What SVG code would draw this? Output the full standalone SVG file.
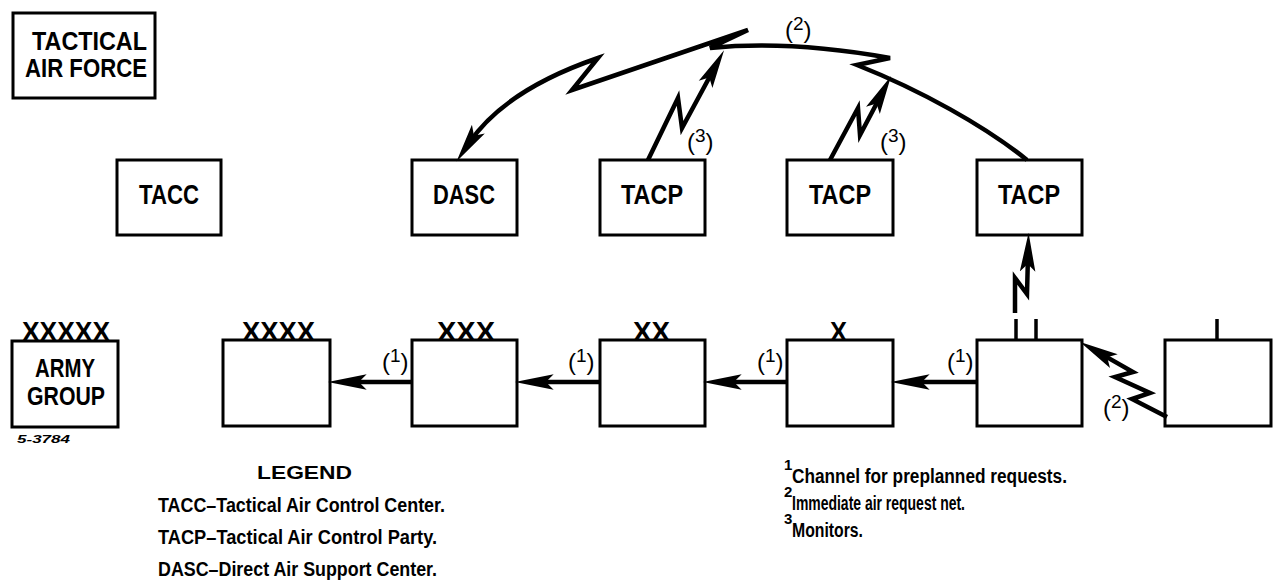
<svg xmlns="http://www.w3.org/2000/svg" width="1273" height="588" viewBox="0 0 1273 588">
<style>
.box{fill:#fff;stroke:#000;stroke-width:3}
.t{font-family:"Liberation Sans",Arial,sans-serif;font-size:27px;font-weight:bold;fill:#000}
.x{font-family:"Liberation Sans",Arial,sans-serif;font-size:28px;font-weight:bold;fill:#000}
.c{fill:none;stroke:#000;stroke-width:4.5;stroke-linejoin:miter}
.lb{font-family:"Liberation Sans",Arial,sans-serif;font-size:24px;fill:#000}
.lg{font-family:"Liberation Sans",Arial,sans-serif;font-size:20px;font-weight:bold;fill:#000}
.sup{font-family:"Liberation Sans",Arial,sans-serif;font-size:15px;font-weight:bold;fill:#000}
.tick{stroke:#000;stroke-width:3.5}
</style>
<defs>
<marker id="ah" markerUnits="userSpaceOnUse" markerWidth="40" markerHeight="20" viewBox="0 -8 36 16" refX="15" refY="0" orient="auto">
<path d="M0,-7 L35,0 L0,7 L7,0 Z" fill="#000"/>
</marker>
</defs>
<rect width="1273" height="588" fill="#fff"/>

<g id="taf"><rect class="box" x="13" y="13" width="142" height="85"/>
<text class="t" x="32" y="50" style="font-size:25px" textLength="115" lengthAdjust="spacingAndGlyphs">TACTICAL</text>
<text class="t" x="25" y="77" style="font-size:25px" textLength="122" lengthAdjust="spacingAndGlyphs">AIR FORCE</text></g>

<g id="tacc"><rect class="box" x="117" y="160" width="104" height="75"/>
<text class="t" x="139" y="204" textLength="60" lengthAdjust="spacingAndGlyphs">TACC</text></g>
<g id="dasc"><rect class="box" x="412" y="160" width="105" height="75"/>
<text class="t" x="433" y="204" textLength="62" lengthAdjust="spacingAndGlyphs">DASC</text></g>
<g id="tacp1"><rect class="box" x="600" y="160" width="105" height="75"/>
<text class="t" x="621" y="204" textLength="62" lengthAdjust="spacingAndGlyphs">TACP</text></g>
<g id="tacp2"><rect class="box" x="787" y="160" width="106" height="75"/>
<text class="t" x="809" y="204" textLength="62" lengthAdjust="spacingAndGlyphs">TACP</text></g>
<g id="tacp3"><rect class="box" x="977" y="160" width="105" height="75"/>
<text class="t" x="998" y="204" textLength="62" lengthAdjust="spacingAndGlyphs">TACP</text></g>

<g id="armygroup"><rect class="box" x="12" y="341" width="106" height="86"/>
<text class="x" x="22" y="341" textLength="88" lengthAdjust="spacingAndGlyphs">XXXXX</text>
<text class="t" x="35" y="377" style="font-size:26px" textLength="60" lengthAdjust="spacingAndGlyphs">ARMY</text>
<text class="t" x="27" y="405" style="font-size:26px" textLength="78" lengthAdjust="spacingAndGlyphs">GROUP</text></g>
<g id="army"><rect class="box" x="223" y="340" width="107" height="86"/>
<text class="x" x="242" y="341" textLength="73" lengthAdjust="spacingAndGlyphs">XXXX</text></g>
<g id="corps"><rect class="box" x="412" y="340" width="105" height="86"/>
<text class="x" x="437" y="341" textLength="58" lengthAdjust="spacingAndGlyphs">XXX</text></g>
<g id="division"><rect class="box" x="600" y="340" width="105" height="86"/>
<text class="x" x="633" y="341" textLength="37" lengthAdjust="spacingAndGlyphs">XX</text></g>
<g id="brigade"><rect class="box" x="787" y="340" width="106" height="86"/>
<text class="x" x="830" y="341" textLength="17" lengthAdjust="spacingAndGlyphs">X</text></g>
<g id="battalion"><rect class="box" x="977" y="340" width="105" height="86"/>
<line class="tick" x1="1016" y1="319" x2="1016" y2="340"/><line class="tick" x1="1036" y1="319" x2="1036" y2="340"/></g>
<g id="company"><rect class="box" x="1165" y="340" width="106" height="86"/>
<line class="tick" x1="1217" y1="319" x2="1217" y2="340"/></g>

<g id="connectors">
<path class="c" marker-end="url(#ah)" d="M412,382 L350,382"/>
<path class="c" marker-end="url(#ah)" d="M600,382 L537,382"/>
<path class="c" marker-end="url(#ah)" d="M787,382 L725,382"/>
<path class="c" marker-end="url(#ah)" d="M977,382 L913,382"/>
<path class="c" marker-end="url(#ah)" d="M1027,160 C985,126 920,90 857,65 L890,58 Q790,40 710,48 L748,30 L572,90 L598,58 Q505,90 469,143"/>
<path class="c" marker-end="url(#ah)" d="M648,160 L678,98 L682,128 L713.5,69.7"/>
<path class="c" marker-end="url(#ah)" d="M830,160 L858,108 L860,135 L880.7,95.7"/>
<path class="c" marker-end="url(#ah)" d="M1015,313 L1015,278 L1027,294 L1028,255"/>
<path class="c" marker-end="url(#ah)" d="M1167,417 L1132,399 L1150,393 L1115,377 L1133,372 L1099.4,352.9"/>
</g>

<g id="labels">
<text class="lb" x="382" y="370">(<tspan dy="-8" style="font-size:19px">1</tspan><tspan dy="8">)</tspan></text>
<text class="lb" x="568" y="370">(<tspan dy="-8" style="font-size:19px">1</tspan><tspan dy="8">)</tspan></text>
<text class="lb" x="757" y="370">(<tspan dy="-8" style="font-size:19px">1</tspan><tspan dy="8">)</tspan></text>
<text class="lb" x="947" y="370">(<tspan dy="-8" style="font-size:19px">1</tspan><tspan dy="8">)</tspan></text>
<text class="lb" x="687" y="150">(<tspan dy="-8" style="font-size:19px">3</tspan><tspan dy="8">)</tspan></text>
<text class="lb" x="880" y="150">(<tspan dy="-8" style="font-size:19px">3</tspan><tspan dy="8">)</tspan></text>
<text class="lb" x="785" y="38">(<tspan dy="-8" style="font-size:19px">2</tspan><tspan dy="8">)</tspan></text>
<text class="lb" x="1103" y="416">(<tspan dy="-8" style="font-size:19px">2</tspan><tspan dy="8">)</tspan></text>
</g>

<text x="17" y="443" font-family="Liberation Sans,Arial,sans-serif" font-size="11" font-weight="bold" font-style="italic" textLength="53" lengthAdjust="spacingAndGlyphs">5-3784</text>

<g id="legend">
<text class="lg" x="257" y="479" style="font-size:18px" textLength="95" lengthAdjust="spacingAndGlyphs">LEGEND</text>
<text class="lg" x="158" y="512" textLength="287" lengthAdjust="spacingAndGlyphs">TACC–Tactical Air Control Center.</text>
<text class="lg" x="158" y="544" textLength="279" lengthAdjust="spacingAndGlyphs">TACP–Tactical Air Control Party.</text>
<text class="lg" x="158" y="576" textLength="279" lengthAdjust="spacingAndGlyphs">DASC–Direct Air Support Center.</text>
</g>
<g id="notes">
<text class="sup" x="784" y="470">1</text>
<text class="lg" x="792" y="483" textLength="275" lengthAdjust="spacingAndGlyphs">Channel for preplanned requests.</text>
<text class="sup" x="784" y="497">2</text>
<text class="lg" x="792" y="510" textLength="173" lengthAdjust="spacingAndGlyphs">Immediate air request net.</text>
<text class="sup" x="784" y="524">3</text>
<text class="lg" x="792" y="537" textLength="71" lengthAdjust="spacingAndGlyphs">Monitors.</text>
</g>
</svg>
